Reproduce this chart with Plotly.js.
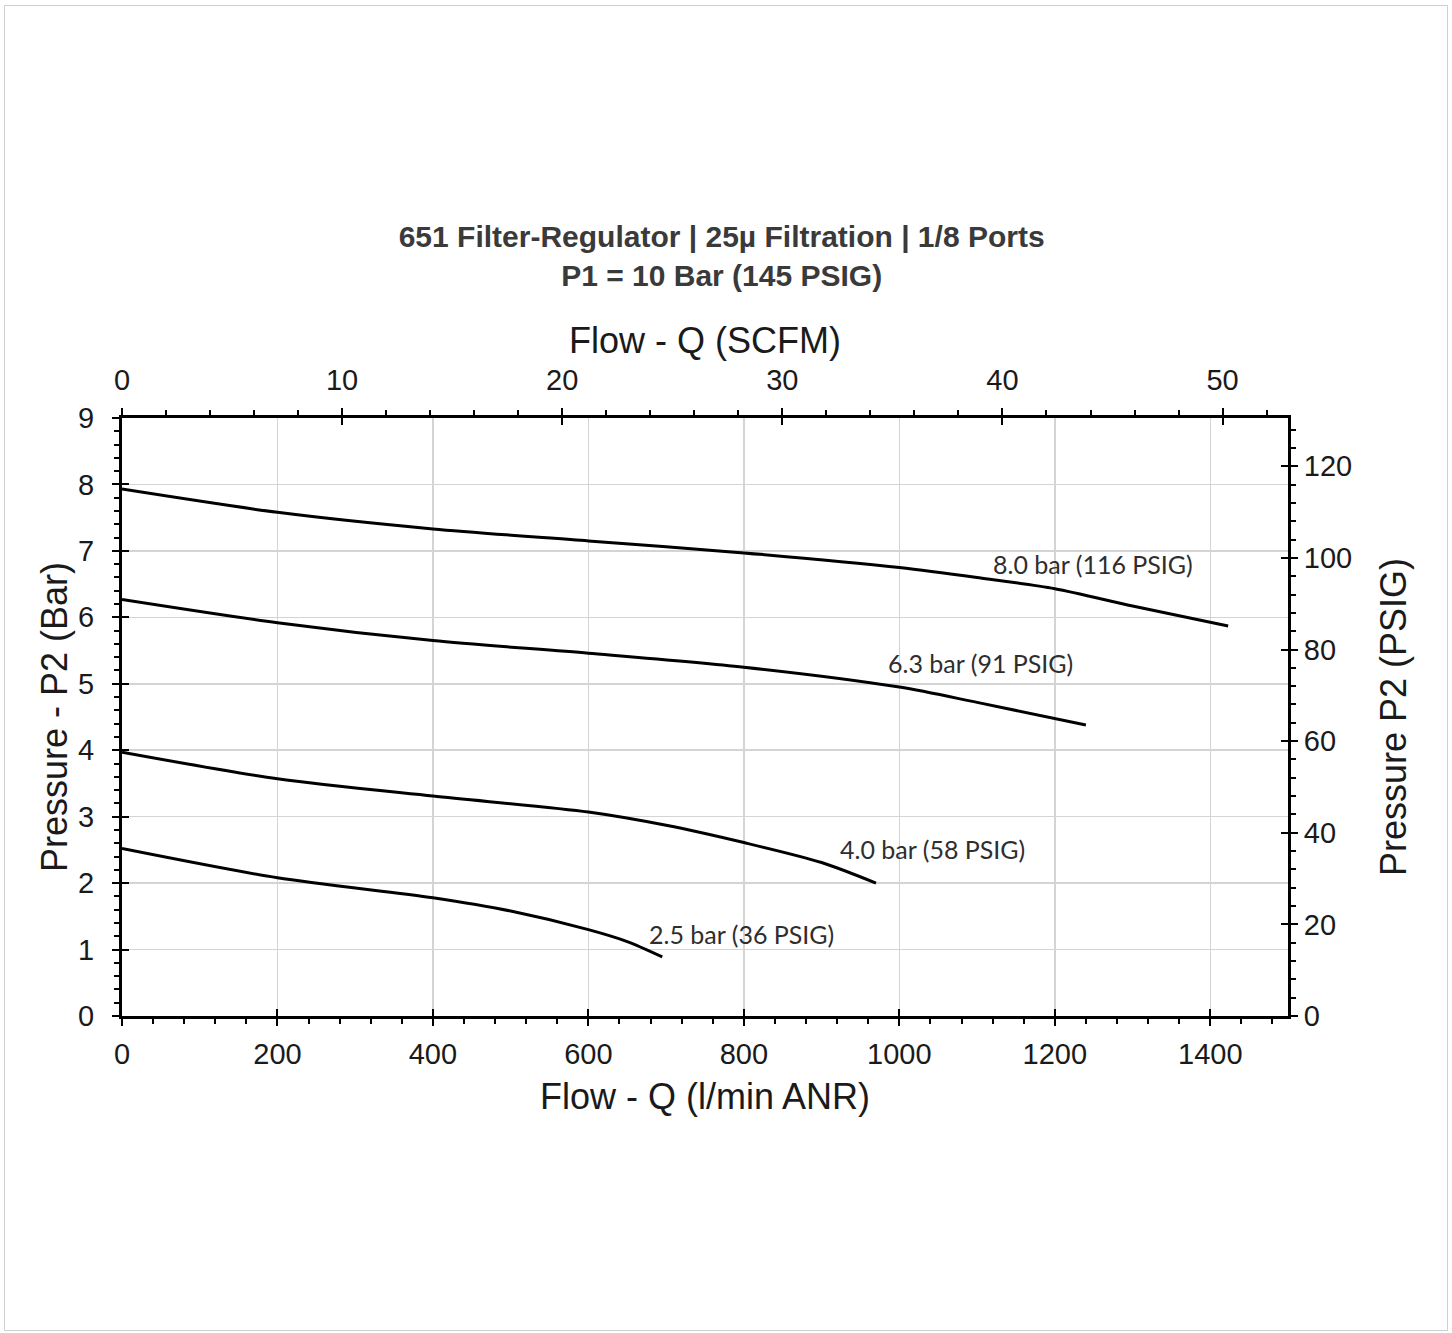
<!DOCTYPE html>
<html>
<head>
<meta charset="utf-8">
<script src="https://cdn.plot.ly/plotly-3.0.1.min.js"></script>
<style>
  html, body { margin: 0; padding: 0; background: #fff; }
  #chart { width: 1452px; height: 1333px; position: relative; }
  #frame { position: absolute; left: 4px; top: 5px; width: 1442px; height: 1324px; border: 1px solid #cfcfcf; pointer-events: none; }
</style>
</head>
<body>
<div id="chart"></div>
<div id="frame"></div>
<script>
// Flow Q (l/min ANR) and outlet pressure P2 (bar) for each regulator setting
const flow80 = [0, 200, 400, 600, 800, 1000, 1100, 1200, 1300, 1423];
const p80    = [7.93, 7.58, 7.33, 7.15, 6.97, 6.75, 6.60, 6.43, 6.17, 5.87];
const flow63 = [0, 200, 400, 600, 800, 1000, 1100, 1240];
const p63    = [6.27, 5.92, 5.65, 5.46, 5.25, 4.95, 4.72, 4.38];
const flow40 = [0, 200, 400, 600, 700, 800, 900, 970];
const p40    = [3.97, 3.57, 3.31, 3.07, 2.87, 2.61, 2.31, 2.00];
const flow25 = [0, 200, 400, 500, 600, 650, 695];
const p25    = [2.52, 2.08, 1.78, 1.58, 1.30, 1.12, 0.89];

const seriesLabels = ["8.0 bar (116 PSIG)", "6.3 bar (91 PSIG)", "4.0 bar (58 PSIG)", "2.5 bar (36 PSIG)"];
const labelX = [1249, 1105, 1043, 797];
const labelY = [6.80, 5.31, 2.51, 1.23];

const titleLines = ["651 Filter-Regulator | 25\u00b5 Filtration | 1/8 Ports", "P1 = 10 Bar (145 PSIG)"];

const FLOW_MAX = 1500;          // l/min
const BAR_MAX = 9;
const LPM_PER_SCFM = 28.3168;
const PSI_PER_BAR = 14.5038;

const lineStyle = {color: '#000', width: 3, shape: 'spline', smoothing: 0.8};
const flows = [flow80, flow63, flow40, flow25];
const pressures = [p80, p63, p40, p25];
const traces = flows.map((f, i) => ({
  x: f, y: pressures[i], type: 'scatter', mode: 'lines',
  line: lineStyle, hoverinfo: 'skip', showlegend: false, name: seriesLabels[i]
}));

const fontMain = 'Liberation Sans, Arial, sans-serif';
const tickFont = {family: fontMain, size: 29, color: '#1a1a1a'};
const axTitleFont = {family: fontMain, size: 36, color: '#1a1a1a'};

const layout = {
  width: 1452, height: 1333,
  paper_bgcolor: '#fff', plot_bgcolor: '#fff',
  margin: {l: 122, r: 164, t: 418, b: 317, pad: 0},
  showlegend: false,
  title: {
    text: titleLines.join('<br>'),
    font: {family: fontMain, size: 30, color: '#3a3a3a', weight: 'bold'},
    xref: 'container', x: 0.497, xanchor: 'center',
    yref: 'container', y: 1 - 247 / 1333, yanchor: 'middle'
  },
  xaxis: {
    range: [0, FLOW_MAX], dtick: 200, tick0: 0,
    showgrid: true, gridcolor: '#d4d4d4', gridwidth: 1.5,
    showline: true, linecolor: '#000', linewidth: 3,
    ticks: 'outside', ticklen: 7, tickwidth: 2, tickcolor: '#000',
    minor: {dtick: 40, ticks: 'outside', ticklen: 5, tickwidth: 2, tickcolor: '#000', showgrid: false},
    tickfont: tickFont, zeroline: false, ticklabelstandoff: 3,
    title: {text: 'Flow - Q (l/min ANR)', font: axTitleFont, standoff: 16}
  },
  yaxis: {
    range: [0, BAR_MAX], dtick: 1, tick0: 0,
    showgrid: true, gridcolor: '#d4d4d4', gridwidth: 1.5,
    showline: true, linecolor: '#000', linewidth: 3,
    ticks: 'outside', ticklen: 7, tickwidth: 2, tickcolor: '#000',
    minor: {dtick: 0.2, ticks: 'outside', ticklen: 5, tickwidth: 2, tickcolor: '#000', showgrid: false},
    tickfont: tickFont, zeroline: false, ticklabelstandoff: 12,
    title: {text: 'Pressure - P2 (Bar)', font: axTitleFont, standoff: 0}
  },
  xaxis2: {
    overlaying: 'x', side: 'top', anchor: 'y',
    range: [0, FLOW_MAX / LPM_PER_SCFM], dtick: 10, tick0: 0,
    showgrid: false, zeroline: false,
    showline: true, linecolor: '#000', linewidth: 3,
    ticks: 'outside', ticklen: 7, tickwidth: 2, tickcolor: '#000',
    minor: {dtick: 2, ticks: 'outside', ticklen: 5, tickwidth: 2, tickcolor: '#000', showgrid: false},
    tickfont: tickFont, ticklabelstandoff: 6,
    title: {text: 'Flow - Q (SCFM)', font: axTitleFont, standoff: 0}
  },
  yaxis2: {
    overlaying: 'y', side: 'right', anchor: 'x',
    range: [0, BAR_MAX * PSI_PER_BAR], dtick: 20, tick0: 0,
    showgrid: false, zeroline: false,
    showline: true, linecolor: '#000', linewidth: 3,
    ticks: 'outside', ticklen: 7, tickwidth: 2, tickcolor: '#000',
    minor: {dtick: 4, ticks: 'outside', ticklen: 5, tickwidth: 2, tickcolor: '#000', showgrid: false},
    tickfont: tickFont,
    title: {text: 'Pressure P2 (PSIG)', font: axTitleFont, standoff: 30}
  },
  // inside halves of the major ticks, so that they cross the frame
  xaxis3: {overlaying: 'x', side: 'bottom', anchor: 'y', range: [0, FLOW_MAX], dtick: 200, tick0: 0,
    showgrid: false, zeroline: false, showticklabels: false, ticks: 'inside', ticklen: 7, tickwidth: 2, tickcolor: '#000'},
  xaxis4: {overlaying: 'x', side: 'top', anchor: 'y', range: [0, FLOW_MAX / LPM_PER_SCFM], dtick: 10, tick0: 0,
    showgrid: false, zeroline: false, showticklabels: false, ticks: 'inside', ticklen: 7, tickwidth: 2, tickcolor: '#000'},
  yaxis3: {overlaying: 'y', side: 'left', anchor: 'x', range: [0, BAR_MAX], dtick: 1, tick0: 0,
    showgrid: false, zeroline: false, showticklabels: false, ticks: 'inside', ticklen: 7, tickwidth: 2, tickcolor: '#000'},
  yaxis4: {overlaying: 'y', side: 'right', anchor: 'x', range: [0, BAR_MAX * PSI_PER_BAR], dtick: 20, tick0: 0,
    showgrid: false, zeroline: false, showticklabels: false, ticks: 'inside', ticklen: 7, tickwidth: 2, tickcolor: '#000'},
  annotations: seriesLabels.map((t, i) => ({
    text: t, x: labelX[i], y: labelY[i], xref: 'x', yref: 'y',
    showarrow: false, xanchor: 'center', yanchor: 'middle',
    font: {family: 'Lato, Noto Sans, sans-serif', size: 25, color: '#2e2e2e'}
  }))
};

// empty traces register the secondary axes so they are drawn
const axisTraces = [['x2', 'y2'], ['x3', 'y3'], ['x4', 'y4']].map(([xa, ya]) => ({
  x: [], y: [], type: 'scatter', mode: 'lines', xaxis: xa, yaxis: ya, showlegend: false, hoverinfo: 'skip'
}));

Plotly.newPlot('chart', traces.concat(axisTraces), layout, {staticPlot: true, displayModeBar: false});
</script>
</body>
</html>
